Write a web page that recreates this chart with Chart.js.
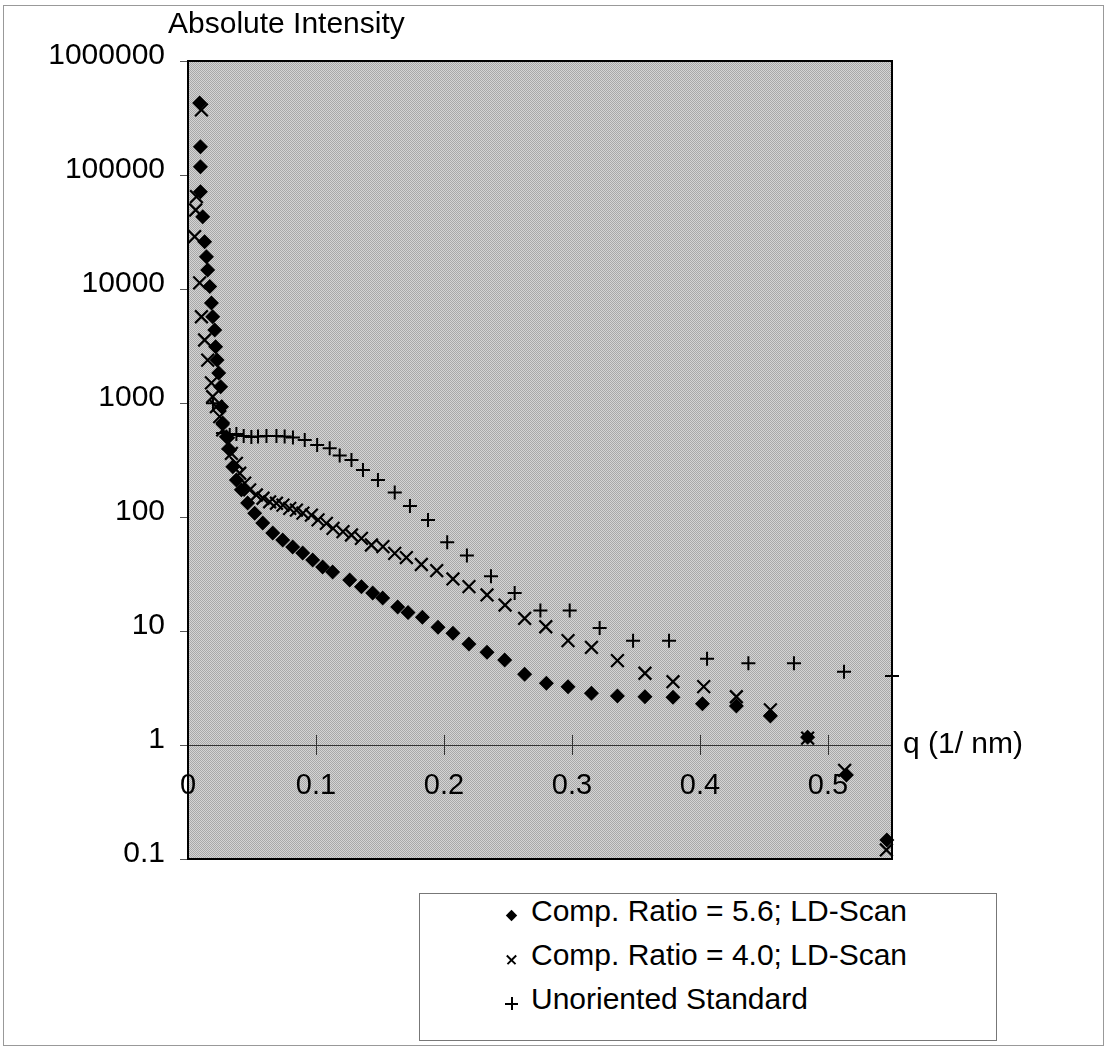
<!DOCTYPE html>
<html>
<head>
<meta charset="utf-8">
<script src="https://cdn.jsdelivr.net/npm/chart.js@4.4.1/dist/chart.umd.min.js"></script>
<style>
  body { margin: 0; background: #fff; }
  #wrap { position: relative; width: 1105px; height: 1046px; font-family: "Liberation Sans", Arial, sans-serif; color: #000; }
  #frame { position: absolute; left: 3px; top: 5px; width: 1101px; height: 1041px; box-sizing: border-box; border: 1px solid #999; pointer-events: none; }
  #title { position: absolute; left: 168px; top: 8px; font-size: 30px; line-height: 30px; white-space: nowrap; }
  #qlabel { position: absolute; left: 903px; top: 728px; font-size: 30px; line-height: 30px; white-space: nowrap; }
  #legend { position: absolute; left: 419px; top: 893px; width: 578px; height: 148px; box-sizing: border-box; border: 1px solid #777; background: #fff; }
  .row { position: absolute; left: 111px; font-size: 30px; line-height: 30px; white-space: nowrap; }
  .mk { position: absolute; left: -26px; top: 13px; width: 13px; height: 13px; }
  .diamond { background: #000; transform: rotate(45deg) scale(0.62); }
  .plus::before, .plus::after { content: ''; position: absolute; background: #000; }
  .plus::before { left: 0; top: 5.5px; width: 13px; height: 2px; }
  .plus::after { left: 5.5px; top: 0; width: 2px; height: 13px; }
  .cross { transform: rotate(45deg) scale(0.95); }
</style>
</head>
<body>
<div id="wrap">
  <canvas id="chart" width="1105" height="1046"></canvas>
  <div id="title">Absolute Intensity</div>
  <div id="qlabel">q (1/ nm)</div>
  <div id="legend">
    <div class="row" style="top:2px"><span class="mk diamond"></span>Comp. Ratio = 5.6; LD-Scan</div>
    <div class="row" style="top:46px"><span class="mk plus cross"></span>Comp. Ratio = 4.0; LD-Scan</div>
    <div class="row" style="top:90px"><span class="mk plus"></span>Unoriented Standard</div>
  </div>
  <div id="frame"></div>
</div>
<script>
// tick labels
const qTicks = [0, 0.1, 0.2, 0.3, 0.4, 0.5];
const intensityTicks = [0.1, 1, 10, 100, 1000, 10000, 100000, 1000000];

// Comp. Ratio = 5.6; LD-Scan (diamonds)
const q56 = [0.0091, 0.0097, 0.0097, 0.0097, 0.0115, 0.0130, 0.0144, 0.0154, 0.0170, 0.0183,
  0.0193, 0.0209, 0.0216, 0.0227, 0.0240, 0.0255, 0.0262, 0.0271, 0.0300, 0.0326,
  0.0350, 0.0378, 0.0417, 0.0466, 0.0521, 0.0584, 0.0662, 0.0740, 0.0818, 0.0896,
  0.0974, 0.1052, 0.1130, 0.1263, 0.1355, 0.1443, 0.1521, 0.1638, 0.1719, 0.1831,
  0.1953, 0.2070, 0.2195, 0.2336, 0.2474, 0.2630, 0.2800, 0.2969, 0.3152, 0.3355,
  0.3570, 0.3789, 0.4019, 0.4284, 0.4550, 0.4841, 0.5144, 0.5460];
const i56 = [428000, 177000, 118000, 71400, 43100, 26000, 19200, 14700, 10500, 7530,
  5710, 4360, 3120, 2380, 1830, 1390, 929, 668, 506, 387,
  276, 211, 173, 133, 108, 88.5, 72.4, 62.9, 54.6, 48.3,
  42.0, 36.4, 32.9, 28.0, 24.5, 21.5, 19.5, 16.2, 14.5, 13.2,
  10.8, 9.55, 7.69, 6.50, 5.57, 4.17, 3.48, 3.25, 2.84, 2.69,
  2.65, 2.62, 2.30, 2.20, 1.80, 1.17, 0.545, 0.147];

// Comp. Ratio = 4.0; LD-Scan (x marks)
const q40 = [0.0105, 0.0066, 0.0060, 0.0052, 0.0091, 0.0105, 0.0130, 0.0154, 0.0183, 0.0193,
  0.0222, 0.0248, 0.0271, 0.0313, 0.0339, 0.0378, 0.0404, 0.0443, 0.0482, 0.0534,
  0.0586, 0.0638, 0.0691, 0.0742, 0.0795, 0.0847, 0.0898, 0.0964, 0.1016, 0.1081,
  0.1133, 0.1211, 0.1277, 0.1355, 0.1433, 0.1523, 0.1615, 0.1706, 0.1823, 0.1943,
  0.2070, 0.2195, 0.2336, 0.2477, 0.2630, 0.2795, 0.2969, 0.3152, 0.3355, 0.3570,
  0.3789, 0.4029, 0.4284, 0.4550, 0.4841, 0.5130, 0.5456];
const i40 = [372000, 64600, 49300, 28800, 11300, 5710, 3570, 2380, 1500, 1135,
  929, 759, 580, 443, 362, 296, 242, 198, 173, 156,
  146, 136, 132, 127, 119, 115, 108, 104, 94.2, 88.0,
  79.6, 74.3, 69.5, 65.0, 56.8, 54.9, 48.0, 44.1, 38.3, 33.9,
  28.6, 24.5, 20.7, 16.9, 12.9, 10.9, 8.22, 7.19, 5.49, 4.26,
  3.59, 3.25, 2.65, 2.03, 1.15, 0.60, 0.12];

// Unoriented Standard (+ marks)
const qStd = [0.0195, 0.0273, 0.0326, 0.0378, 0.0435, 0.0495, 0.0547, 0.0613, 0.0691, 0.0755,
  0.0820, 0.0912, 0.1009, 0.1107, 0.1185, 0.1277, 0.1367, 0.1484, 0.1615, 0.1734,
  0.1875, 0.2025, 0.2179, 0.2367, 0.2552, 0.2753, 0.2982, 0.3216, 0.3477, 0.3758,
  0.4055, 0.4378, 0.4734, 0.5125, 0.5500];
const iStd = [994, 546, 524, 535, 514, 503, 508, 514, 514, 508,
  498, 473, 428, 401, 346, 316, 258, 211, 164, 125,
  94.2, 60.0, 45.9, 30.2, 21.5, 15.1, 15.1, 10.6, 8.22, 8.22,
  5.71, 5.21, 5.21, 4.40, 4.03];

const toPoints = (qs, vals) => qs.map((q, k) => ({ x: q, y: vals[k] }));

const FONT = "'Liberation Sans', Arial, sans-serif";
Chart.defaults.font.family = FONT;
Chart.defaults.color = '#000';

function ditherPattern(ctx) {
  const tile = document.createElement('canvas');
  tile.width = 2;
  tile.height = 2;
  const t = tile.getContext('2d');
  t.fillStyle = '#d4d4d4';
  t.fillRect(0, 0, 2, 2);
  t.fillStyle = '#a8a8a8';
  t.fillRect(0, 0, 1, 1);
  t.fillRect(1, 1, 1, 1);
  return ctx.createPattern(tile, 'repeat');
}

// grey plot area, black frame and the small ticks crossing the q axis
const plotFrame = {
  id: 'plotFrame',
  beforeDraw(chart) {
    const { ctx, chartArea: a } = chart;
    ctx.save();
    ctx.fillStyle = ditherPattern(ctx);
    ctx.fillRect(a.left, a.top, a.width, a.height);
    ctx.restore();
  },
  beforeDatasetsDraw(chart) {
    const { ctx, chartArea: a, scales } = chart;
    const yAxis = scales.y.getPixelForValue(1);
    ctx.save();
    ctx.strokeStyle = '#333';
    ctx.lineWidth = 1;
    scales.x.ticks.forEach(t => {
      if (t.value === 0) return;
      const px = Math.round(scales.x.getPixelForValue(t.value)) + 0.5;
      ctx.beginPath();
      ctx.moveTo(px, yAxis - 10);
      ctx.lineTo(px, yAxis + 10);
      ctx.stroke();
    });
    ctx.strokeStyle = '#000';
    ctx.lineWidth = 2;
    ctx.strokeRect(a.left, a.top, a.width, a.height);
    ctx.restore();
  }
};

new Chart(document.getElementById('chart'), {
  type: 'scatter',
  data: {
    datasets: [{
      label: 'Comp. Ratio = 5.6; LD-Scan',
      data: toPoints(q56, i56),
      pointStyle: 'rectRot',
      pointRadius: 7.5,
      pointBackgroundColor: '#000',
      pointBorderColor: '#000',
      pointBorderWidth: 0,
      clip: false
    }, {
      label: 'Comp. Ratio = 4.0; LD-Scan',
      data: toPoints(q40, i40),
      pointStyle: 'crossRot',
      pointRadius: 9,
      pointBorderColor: '#000',
      pointBorderWidth: 2.2,
      clip: false
    }, {
      label: 'Unoriented Standard',
      data: toPoints(qStd, iStd),
      pointStyle: 'cross',
      pointRadius: 7,
      pointBorderColor: '#000',
      pointBorderWidth: 2,
      clip: false
    }]
  },
  options: {
    responsive: false,
    animation: false,
    events: [],
    layout: { padding: { left: 0, right: 213, top: 61, bottom: 187 } },
    plugins: {
      legend: { display: false },
      tooltip: { enabled: false },
      title: { display: false }
    },
    scales: {
      x: {
        type: 'linear',
        position: { y: 1 },
        min: 0,
        max: 0.55,
        afterBuildTicks: scale => { scale.ticks = qTicks.map(v => ({ value: v })); },
        afterFit: scale => { scale.height = 0; },
        grid: { display: true, drawOnChartArea: false, drawTicks: false },
        border: { display: true, color: '#333', width: 1 },
        ticks: {
          autoSkip: false,
          maxRotation: 0,
          padding: 24,
          font: { size: 29 },
          color: '#000',
          callback: v => String(v)
        }
      },
      y: {
        type: 'logarithmic',
        position: 'left',
        min: 0.1,
        max: 1000000,
        afterBuildTicks: scale => { scale.ticks = intensityTicks.map(v => ({ value: v })); },
        afterFit: scale => { scale.width = 188; },
        grid: { display: true, drawOnChartArea: false, drawTicks: true, tickLength: 8, color: '#555' },
        border: { display: false },
        ticks: {
          padding: 15,
          labelOffset: -5,
          font: { size: 30 },
          color: '#000',
          callback: v => String(v)
        }
      }
    }
  },
  plugins: [plotFrame]
});
</script>
</body>
</html>
